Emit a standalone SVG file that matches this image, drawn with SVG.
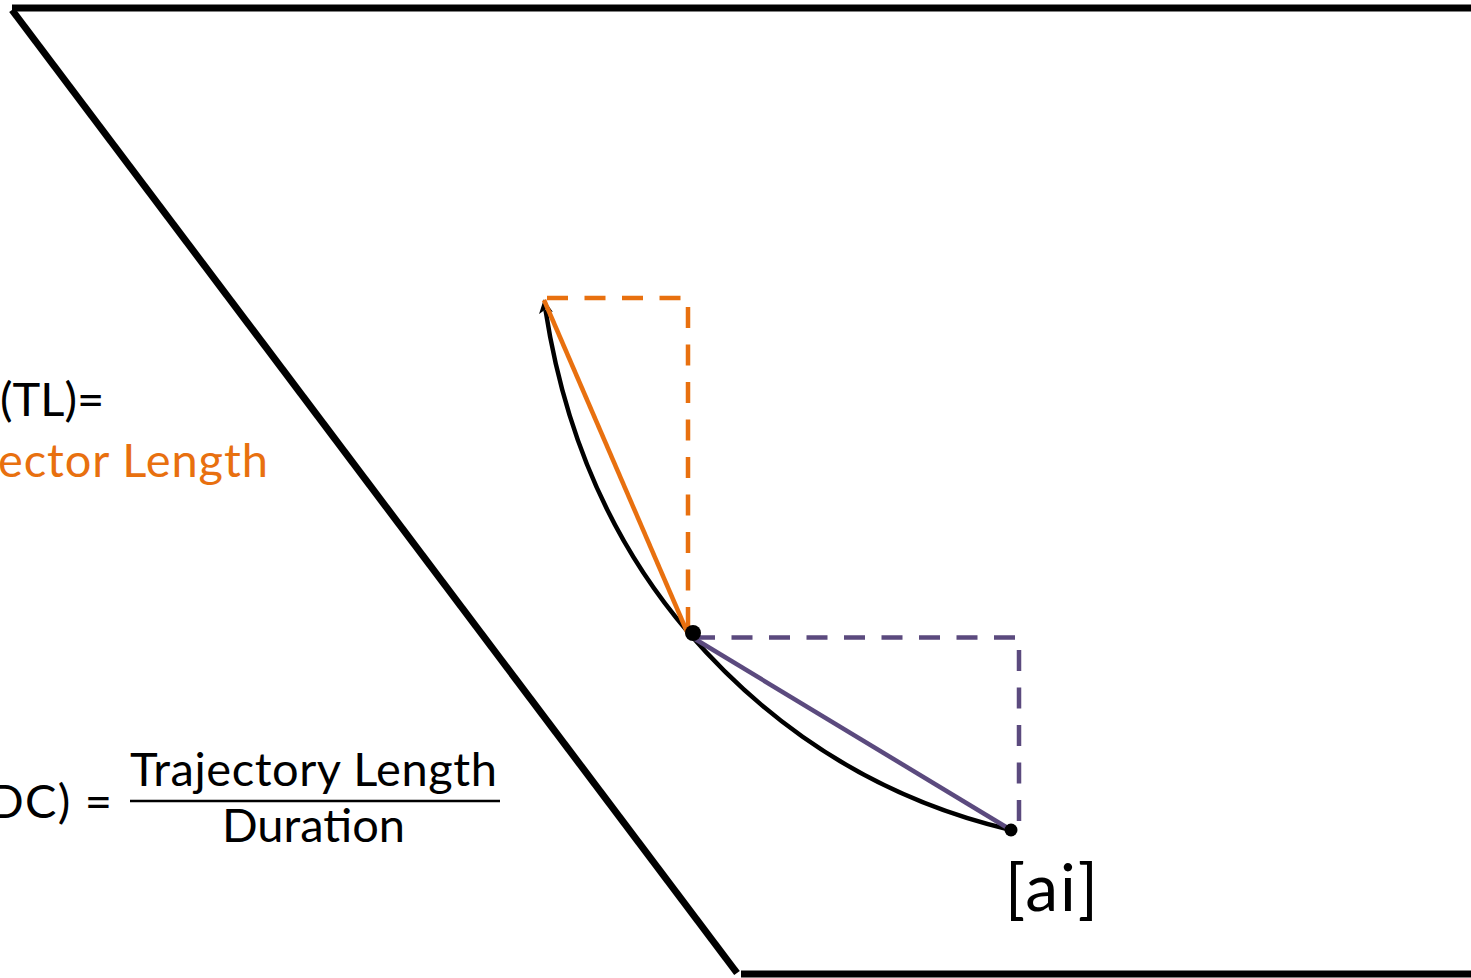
<svg xmlns="http://www.w3.org/2000/svg" width="1471" height="978" viewBox="0 0 1471 978">
<style>
.frame{fill:none;stroke:#000;stroke-width:7;stroke-linecap:butt}
.lbl{font-family:Lato,"Open Sans",sans-serif;font-size:47px;fill:#000}
.org{stroke:#E8700F;fill:none;stroke-width:4.5}
.pur{stroke:#5B4A7E;fill:none;stroke-width:4.5}
.dash{stroke-dasharray:21 16.5}
</style>
<defs>
<marker id="ah" markerWidth="14" markerHeight="14" refX="3" refY="7" orient="auto-start-reverse" markerUnits="userSpaceOnUse" viewBox="0 0 14 14">
<path d="M14,7 L0,0 L3.5,7 L0,14 Z" fill="#000"/>
</marker>
</defs>
<g id="frame">
<path class="frame" d="M12,8 H1471"/>
<path class="frame" d="M12,10 L737,973"/>
<path class="frame" d="M741,974 H1471"/>
</g>
<g id="labels">
<text class="lbl" x="0" y="416">(TL)=</text>
<text class="lbl" x="-2" y="477" textLength="270" style="fill:#E8700F">ector Length</text>
<text class="lbl" x="-12" y="818" textLength="124">DC) =</text>
<text class="lbl" x="130" y="786" textLength="367">Trajectory Length</text>
<line x1="130" y1="801" x2="500" y2="801" stroke="#000" stroke-width="2.5"/>
<text class="lbl" x="222" y="842" textLength="183">Duration</text>
<text id="ai" x="1005" y="911" textLength="93" style="font-family:Lato,'Open Sans',sans-serif;font-size:66px;fill:#000">[ai]</text>
</g>
<g id="connectors">
<path class="org dash" d="M547,298 H688 V632"/>
<path class="pur dash" d="M694,637.5 H1019 V830"/>
<path d="M545.5,310 Q575,500 688,632 Q820,785 1011,830" fill="none" stroke="#000" stroke-width="4.5" marker-start="url(#ah)"/>
<line class="org" x1="544" y1="300" x2="688" y2="634"/>
<line class="pur" x1="690" y1="636" x2="1011" y2="830"/>
</g>
<g id="points">
<circle cx="693" cy="633" r="8" fill="#000"/>
<circle cx="1011" cy="830" r="6.5" fill="#000"/>
</g>
</svg>
